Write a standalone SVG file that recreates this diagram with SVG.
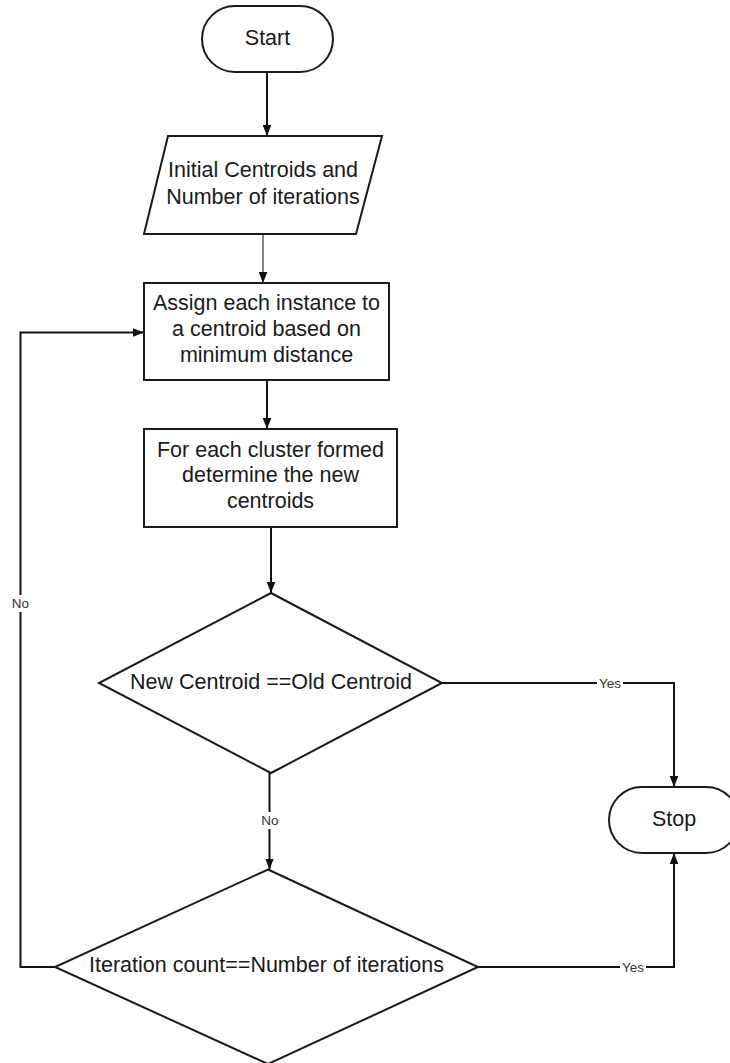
<svg xmlns="http://www.w3.org/2000/svg" width="730" height="1063" viewBox="0 0 730 1063">
  <style>
    .shape { fill: #ffffff; stroke: #1a1a1a; stroke-width: 2; }
    .txt { font-family: "Liberation Sans", Arial, sans-serif; font-size: 21.5px; fill: #1a1a1a; text-anchor: middle; }
    .lbl { font-family: "Liberation Sans", Arial, sans-serif; font-size: 13.5px; fill: #333333; text-anchor: middle; dominant-baseline: central; }
    .wire { fill: none; stroke: #111111; stroke-width: 2; }
    .thin { stroke: #444444; stroke-width: 1.3; }
    .knock { fill: #ffffff; }
  </style>
  <defs>
    <marker id="arrow" markerUnits="userSpaceOnUse" markerWidth="11" markerHeight="14" refX="14" refY="5.5" viewBox="0 0 14 11" orient="auto">
      <path d="M0,0 L14,5.5 L0,11 z" fill="#111111"/>
    </marker>
  </defs>

  <!-- connectors -->
  <g id="connectors">
    <path class="wire" d="M267,72 L267,136" marker-end="url(#arrow)"/>
    <path class="wire thin" d="M263,234 L263,283" marker-end="url(#arrow)"/>
    <path class="wire" d="M267,380 L267,429" marker-end="url(#arrow)"/>
    <path class="wire" d="M271,527 L271,593" marker-end="url(#arrow)"/>
    <path class="wire" d="M442,683 L674,683 L674,787" marker-end="url(#arrow)"/>
    <path class="wire" d="M269.5,773 L269.5,869.5" marker-end="url(#arrow)"/>
    <path class="wire" d="M478,967 L674,967 L674,853" marker-end="url(#arrow)"/>
    <path class="wire" d="M55,967 L20.5,967 L20.5,332.5 L144,332.5" marker-end="url(#arrow)"/>

    <!-- edge labels -->
    <rect class="knock" x="597" y="675" width="26" height="16"/>
    <text class="lbl" x="610" y="683">Yes</text>
    <rect class="knock" x="620" y="959" width="26" height="16"/>
    <text class="lbl" x="633" y="967">Yes</text>
    <rect class="knock" x="259" y="812" width="22" height="17"/>
    <text class="lbl" x="270" y="820">No</text>
    <rect class="knock" x="10" y="595" width="21" height="17"/>
    <text class="lbl" x="20.5" y="603">No</text>
  </g>

  <g id="start">
    <rect class="shape" x="202" y="6" width="131" height="66" rx="33" ry="33"/>
    <text class="txt" x="267.5" y="45">Start</text>
  </g>

  <g id="input">
    <polygon class="shape" points="168,136 382,136 356,234 144,234"/>
    <text class="txt" x="263" y="177">Initial Centroids and</text>
    <text class="txt" x="263" y="203.5">Number of iterations</text>
  </g>

  <g id="assign">
    <rect class="shape" x="144" y="283" width="245" height="97"/>
    <text class="txt" x="266.5" y="309.5">Assign each instance to</text>
    <text class="txt" x="266.5" y="336">a centroid based on</text>
    <text class="txt" x="266.5" y="362">minimum distance</text>
  </g>

  <g id="update">
    <rect class="shape" x="144" y="429" width="253" height="98"/>
    <text class="txt" x="270.5" y="456.5">For each cluster formed</text>
    <text class="txt" x="270.5" y="482">determine the new</text>
    <text class="txt" x="270.5" y="507.5">centroids</text>
  </g>

  <g id="converged">
    <polygon class="shape" points="271,593 442,683 271,773 99,683"/>
    <text class="txt" x="271" y="688.5">New Centroid ==Old Centroid</text>
  </g>

  <g id="max-iter">
    <polygon class="shape" points="268,869.5 478,967 268,1064 55,967"/>
    <text class="txt" x="266.5" y="972">Iteration count==Number of iterations</text>
  </g>

  <g id="stop">
    <rect class="shape" x="609" y="787" width="130" height="66" rx="33" ry="33"/>
    <text class="txt" x="674" y="825.5">Stop</text>
  </g>
</svg>
